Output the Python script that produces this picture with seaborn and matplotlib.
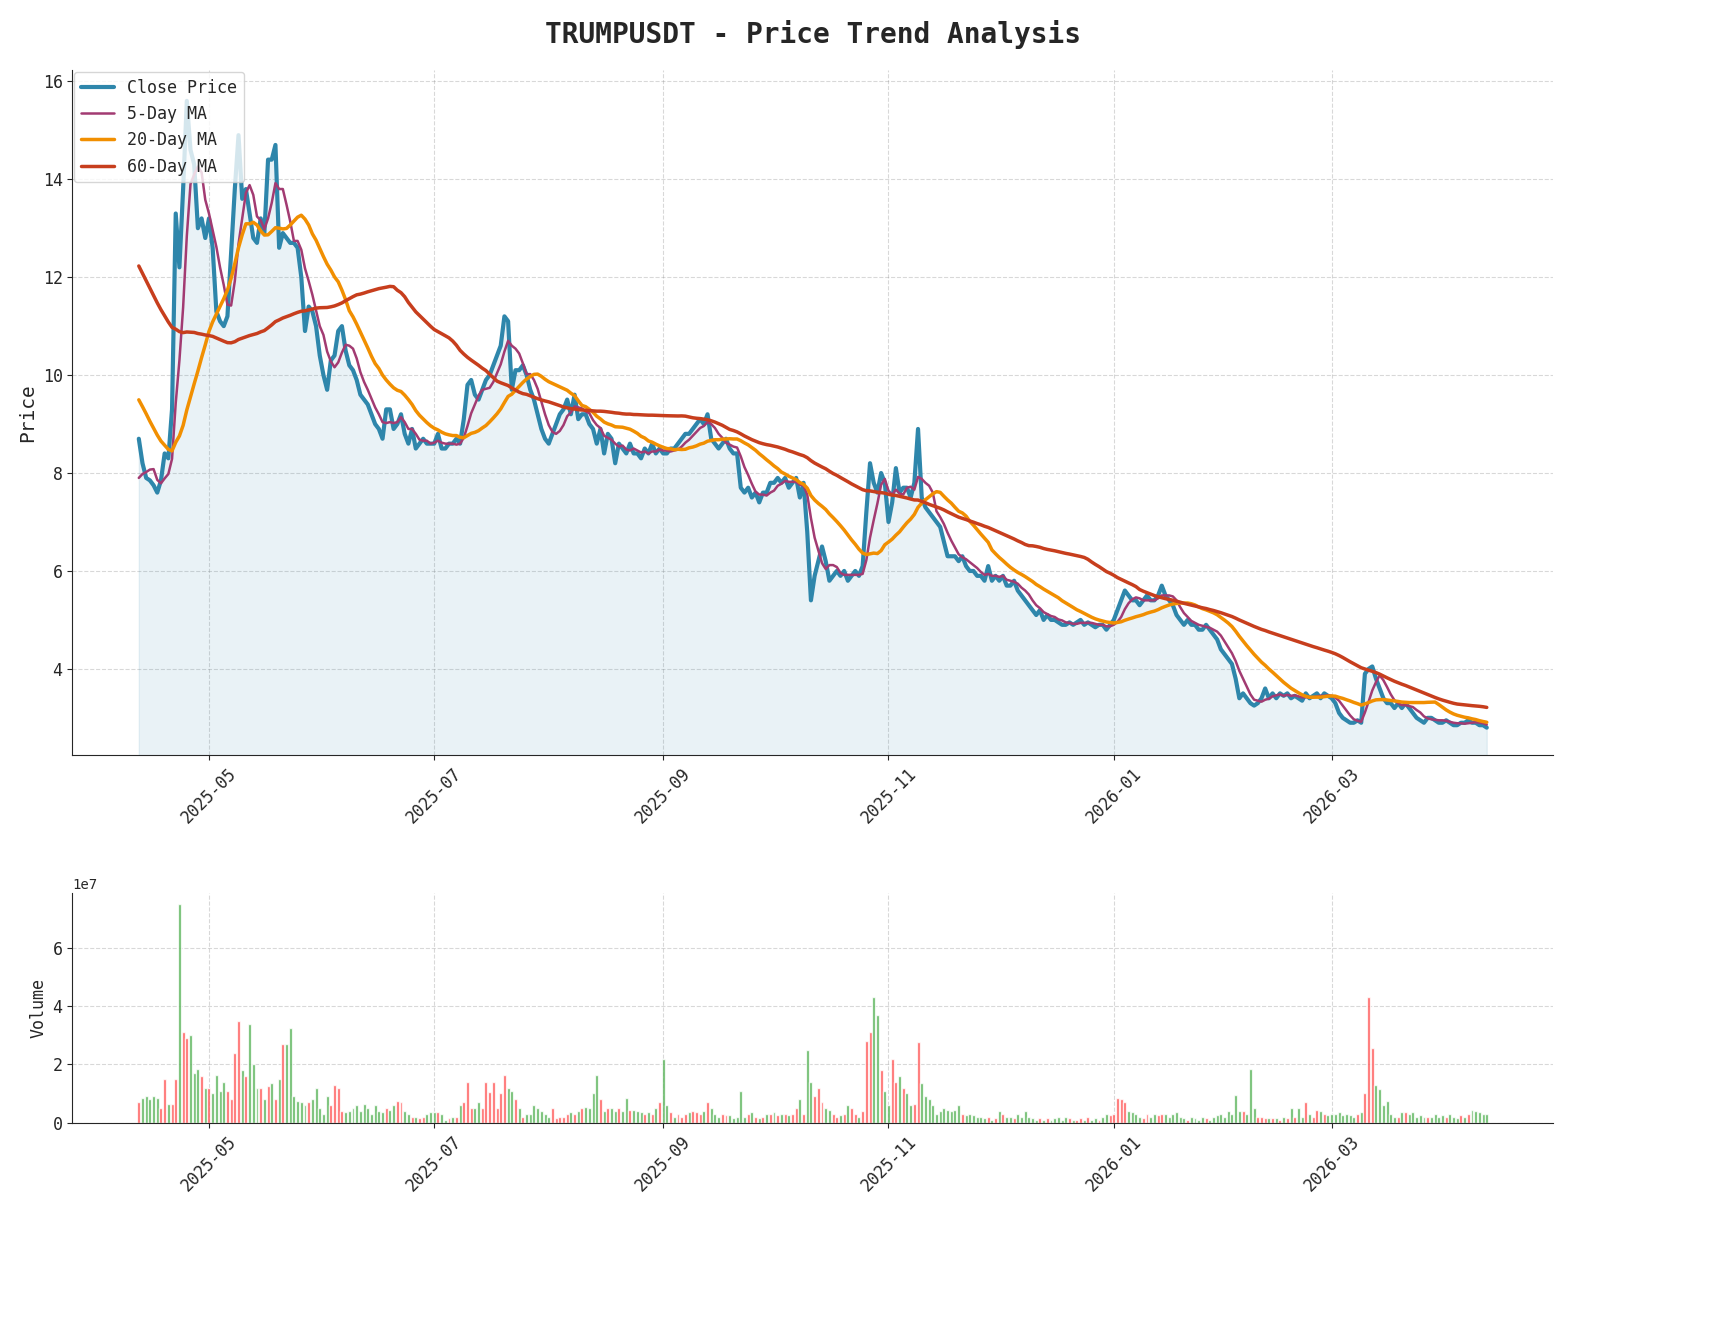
import matplotlib.pyplot as plt
import matplotlib.dates as mdates
import matplotlib.ticker as mticker
import seaborn as sns
import pandas as pd
import numpy as np

# closes before the plotted window, only used to warm up the moving averages
pre_close = [17.5, 17.3, 17.0, 16.8, 16.9, 16.5, 16.2, 16.0, 15.8, 15.9, 15.5, 15.2, 15.0, 14.8, 14.9,
             14.6, 14.3, 14.0, 13.8, 13.9, 13.6, 13.3, 13.1, 12.9, 13.0, 12.7, 12.4, 12.2, 12.0, 12.1,
             11.8, 11.6, 11.4, 11.2, 11.3, 11.0, 10.8, 10.7, 10.5, 10.6,
             11.2, 11.0, 10.8, 10.9, 10.6, 10.4, 10.3, 10.1, 10.0, 9.9, 9.8, 9.6, 9.5, 9.3, 9.2, 9.0,
             7.8, 7.7, 7.6, 7.7]

close = [
    # Apr 2025
    8.7, 8.2, 7.9, 7.85, 7.75, 7.6, 7.85, 8.4, 8.3, 9.3, 13.3, 12.2, 13.8, 15.6, 14.6, 14.3, 13.0, 13.2, 12.8,
    # May
    13.2, 12.6, 11.3, 11.1, 11.0, 11.2, 12.5, 13.8, 14.9, 13.6, 13.8, 13.3, 12.8, 12.7, 13.2, 12.9, 14.4, 14.4,
    14.7, 12.6, 12.9, 12.8, 12.7, 12.7, 12.6, 12.0, 10.9, 11.4, 11.3, 11.0, 10.4,
    # Jun
    10.0, 9.7, 10.3, 10.4, 10.9, 11.0, 10.5, 10.2, 10.1, 9.9, 9.6, 9.5, 9.4, 9.2, 9.0, 8.9, 8.7, 9.3, 9.3, 8.9,
    9.0, 9.2, 8.8, 8.6, 8.9, 8.5, 8.6, 8.7, 8.6, 8.6,
    # Jul
    8.6, 8.8, 8.5, 8.5, 8.6, 8.6, 8.7, 8.6, 9.1, 9.8, 9.9, 9.6, 9.5, 9.7, 9.9, 10.0, 10.2, 10.4, 10.6, 11.2,
    11.1, 9.7, 10.1, 10.1, 10.2, 10.0, 9.7, 9.5, 9.2, 8.9, 8.7,
    # Aug
    8.6, 8.8, 9.0, 9.2, 9.3, 9.5, 9.2, 9.6, 9.1, 9.2, 9.2, 9.0, 8.9, 8.6, 8.9, 8.4, 8.8, 8.7, 8.2, 8.6,
    8.5, 8.4, 8.6, 8.4, 8.4, 8.3, 8.5, 8.4, 8.6, 8.4, 8.5,
    # Sep
    8.4, 8.4, 8.5, 8.5, 8.6, 8.7, 8.8, 8.8, 8.9, 9.0, 9.1, 9.0, 9.2, 8.7, 8.6, 8.5, 8.6, 8.7, 8.5, 8.4,
    8.4, 7.7, 7.6, 7.7, 7.5, 7.6, 7.4, 7.6, 7.6, 7.8,
    # Oct
    7.8, 7.9, 7.8, 7.9, 7.7, 7.8, 7.9, 7.5, 7.8, 6.8, 5.4, 5.9, 6.2, 6.5, 6.2, 5.8, 5.9, 6.0, 5.9, 6.0,
    5.8, 5.9, 6.0, 5.9, 6.1, 7.2, 8.2, 7.8, 7.6, 8.0, 7.8,
    # Nov
    7.0, 7.4, 8.1, 7.6, 7.7, 7.7, 7.5, 7.8, 8.9, 7.5, 7.3, 7.2, 7.1, 7.0, 6.9, 6.6, 6.3, 6.3, 6.3, 6.2,
    6.3, 6.1, 6.0, 6.0, 5.9, 5.9, 5.8, 6.1, 5.8, 5.9,
    # Dec
    5.8, 5.9, 5.7, 5.7, 5.8, 5.6, 5.5, 5.4, 5.3, 5.2, 5.1, 5.2, 5.0, 5.1, 5.0, 5.0, 4.95, 4.9, 4.9, 4.95,
    4.9, 4.95, 5.0, 4.9, 4.95, 4.9, 4.85, 4.9, 4.9, 4.8, 4.9,
    # Jan 2026
    5.0, 5.2, 5.4, 5.6, 5.5, 5.4, 5.4, 5.3, 5.4, 5.5, 5.4, 5.4, 5.5, 5.7, 5.5, 5.4, 5.3, 5.1, 5.0, 4.9,
    5.0, 4.9, 4.9, 4.8, 4.8, 4.9, 4.8, 4.7, 4.6, 4.4, 4.3,
    # Feb
    4.2, 4.1, 3.8, 3.4, 3.5, 3.4, 3.3, 3.25, 3.3, 3.4, 3.6, 3.4, 3.5, 3.4, 3.5, 3.45, 3.5, 3.4, 3.45, 3.4,
    3.35, 3.5, 3.4, 3.45, 3.5, 3.4, 3.5, 3.45,
    # Mar
    3.4, 3.3, 3.1, 3.0, 2.95, 2.9, 2.9, 2.95, 2.9, 3.9, 4.0, 4.05, 3.8, 3.6, 3.4, 3.3, 3.3, 3.2, 3.3, 3.2,
    3.3, 3.2, 3.1, 3.0, 2.95, 2.9, 3.0, 3.0, 2.95, 2.9, 2.9,
    # Apr
    2.95, 2.9, 2.85, 2.85, 2.9, 2.9, 2.95, 2.9, 2.9, 2.85, 2.85, 2.8,
]

volume_1e7 = [
    0.7, 0.85, 0.9, 0.8, 0.9, 0.85, 0.5, 1.5, 0.65, 0.65, 1.5, 7.5, 3.1, 2.9, 3.0, 1.7, 1.85, 1.6, 1.2,
    1.2, 1.0, 1.65, 1.1, 1.4, 1.1, 0.8, 2.4, 3.5, 1.8, 1.6, 3.4, 2.0, 1.2, 1.2, 0.8, 1.25, 1.35, 0.8, 1.5,
    2.7, 2.7, 3.25, 0.9, 0.75, 0.7, 0.6, 0.7, 0.8, 1.2, 0.5,
    0.3, 0.9, 0.6, 1.3, 1.2, 0.4, 0.35, 0.4, 0.5, 0.6, 0.4, 0.65, 0.5, 0.3, 0.6, 0.4, 0.35, 0.5, 0.45, 0.6,
    0.75, 0.7, 0.4, 0.3, 0.2, 0.2, 0.15, 0.2, 0.3, 0.35,
    0.35, 0.35, 0.3, 0.1, 0.15, 0.2, 0.2, 0.6, 0.7, 1.4, 0.5, 0.5, 0.7, 0.5, 1.4, 1.05, 1.4, 0.5, 1.0, 1.65,
    1.2, 1.1, 0.8, 0.5, 0.2, 0.3, 0.3, 0.6, 0.5, 0.4, 0.3,
    0.2, 0.5, 0.15, 0.2, 0.2, 0.3, 0.35, 0.3, 0.4, 0.5, 0.55, 0.5, 1.0, 1.65, 0.8, 0.4, 0.5, 0.5, 0.4, 0.5,
    0.4, 0.85, 0.45, 0.45, 0.4, 0.35, 0.3, 0.35, 0.3, 0.5, 0.7,
    2.2, 0.6, 0.35, 0.2, 0.3, 0.2, 0.3, 0.35, 0.4, 0.35, 0.3, 0.4, 0.7, 0.5, 0.3, 0.2, 0.3, 0.25, 0.25, 0.15,
    0.2, 1.1, 0.2, 0.3, 0.35, 0.2, 0.15, 0.2, 0.3, 0.3,
    0.35, 0.25, 0.3, 0.3, 0.25, 0.3, 0.5, 0.8, 0.3, 2.5, 1.4, 0.9, 1.2, 0.7, 0.5, 0.45, 0.3, 0.2, 0.25, 0.3,
    0.6, 0.5, 0.3, 0.2, 0.4, 2.8, 3.1, 4.3, 3.7, 1.8, 1.1,
    0.6, 2.2, 1.4, 1.6, 1.2, 1.0, 0.6, 0.65, 2.75, 1.35, 0.9, 0.8, 0.6, 0.3, 0.4, 0.5, 0.45, 0.4, 0.45, 0.6,
    0.3, 0.25, 0.3, 0.25, 0.2, 0.2, 0.15, 0.2, 0.1, 0.15,
    0.4, 0.3, 0.2, 0.2, 0.15, 0.3, 0.2, 0.4, 0.2, 0.15, 0.1, 0.15, 0.1, 0.15, 0.1, 0.15, 0.2, 0.1, 0.2, 0.15,
    0.1, 0.1, 0.15, 0.1, 0.2, 0.1, 0.15, 0.1, 0.2, 0.3, 0.25,
    0.3, 0.85, 0.8, 0.7, 0.4, 0.35, 0.3, 0.2, 0.15, 0.3, 0.2, 0.3, 0.25, 0.3, 0.3, 0.2, 0.3, 0.35, 0.2, 0.15,
    0.1, 0.2, 0.15, 0.1, 0.2, 0.15, 0.1, 0.2, 0.25, 0.3, 0.2,
    0.4, 0.3, 0.95, 0.4, 0.4, 0.3, 1.85, 0.5, 0.2, 0.2, 0.15, 0.15, 0.15, 0.15, 0.1, 0.2, 0.15, 0.5, 0.2, 0.5,
    0.2, 0.7, 0.3, 0.2, 0.45, 0.4, 0.3, 0.25,
    0.3, 0.3, 0.35, 0.25, 0.3, 0.25, 0.2, 0.3, 0.35, 1.0, 4.3, 2.55, 1.3, 1.15, 0.6, 0.75, 0.3, 0.2, 0.2, 0.35,
    0.35, 0.3, 0.35, 0.2, 0.25, 0.2, 0.2, 0.2, 0.3, 0.2, 0.25,
    0.2, 0.3, 0.2, 0.15, 0.25, 0.2, 0.3, 0.45, 0.4, 0.35, 0.3, 0.3,
]

n = len(close)
allc = pd.Series(pre_close + close)
df = pd.DataFrame({
    "date": pd.date_range("2025-04-12", periods=n, freq="D"),
    "close": close,
    "ma5": allc.rolling(5, min_periods=1).mean().values[-n:],
    "ma20": allc.rolling(20, min_periods=1).mean().values[-n:],
    "ma60": allc.rolling(60, min_periods=1).mean().values[-n:],
})
vol = np.array((volume_1e7 + [0.2] * n)[:n]) * 1e7
up = np.diff(np.array(pre_close[-1:] + close)) > 0

sns.set_style("ticks")
plt.rcParams["font.family"] = ["DejaVu Sans Mono", "DejaVu Sans"]

fig = plt.figure(figsize=(17.22, 13.27), dpi=100)
ax1 = fig.add_axes([0.042, 0.431, 0.86, 0.516])
ax2 = fig.add_axes([0.042, 0.154, 0.86, 0.173])

sns.lineplot(data=df, x="date", y="close", ax=ax1, color="#2E86AB", linewidth=3, label="Close Price")
sns.lineplot(data=df, x="date", y="ma5", ax=ax1, color="#A23B72", linewidth=1.8, label="5-Day MA")
sns.lineplot(data=df, x="date", y="ma20", ax=ax1, color="#F18F01", linewidth=2.5, label="20-Day MA")
sns.lineplot(data=df, x="date", y="ma60", ax=ax1, color="#C73E1D", linewidth=2.5, label="60-Day MA")
ax1.fill_between(df["date"], df["close"], 0, color="#2E86AB", alpha=0.1)
ax1.set_ylim(min(close) * 0.8, max(close) * 1.04)
ax1.set_ylabel("Price", fontsize=14)
ax1.set_xlabel("")
ax1.legend(loc="upper left", fontsize=12, borderaxespad=0.1)
ax1.set_title("TRUMPUSDT - Price Trend Analysis", fontsize=20, fontweight="bold", pad=20)

ax2.bar(df["date"], vol, color=np.where(up, "#FF4444", "#44AA44"), alpha=0.8, width=0.8)
ax2.set_ylabel("Volume", fontsize=12)
ax2.yaxis.set_major_locator(mticker.MultipleLocator(2e7))
ax2.set_xlabel("")

for ax in (ax1, ax2):
    ax.grid(True, linestyle="--", alpha=0.3, color="gray")
    ax.xaxis.set_major_locator(mdates.MonthLocator(bymonth=[1, 3, 5, 7, 9, 11]))
    ax.xaxis.set_major_formatter(mdates.DateFormatter("%Y-%m"))
    ax.set_xlim(pd.Timestamp("2025-03-25"), pd.Timestamp("2026-04-30"))
    plt.setp(ax.get_xticklabels(), rotation=45, fontsize=12)
    plt.setp(ax.get_yticklabels(), fontsize=12)
    sns.despine(ax=ax)

fig.savefig("out.png", dpi=100)
